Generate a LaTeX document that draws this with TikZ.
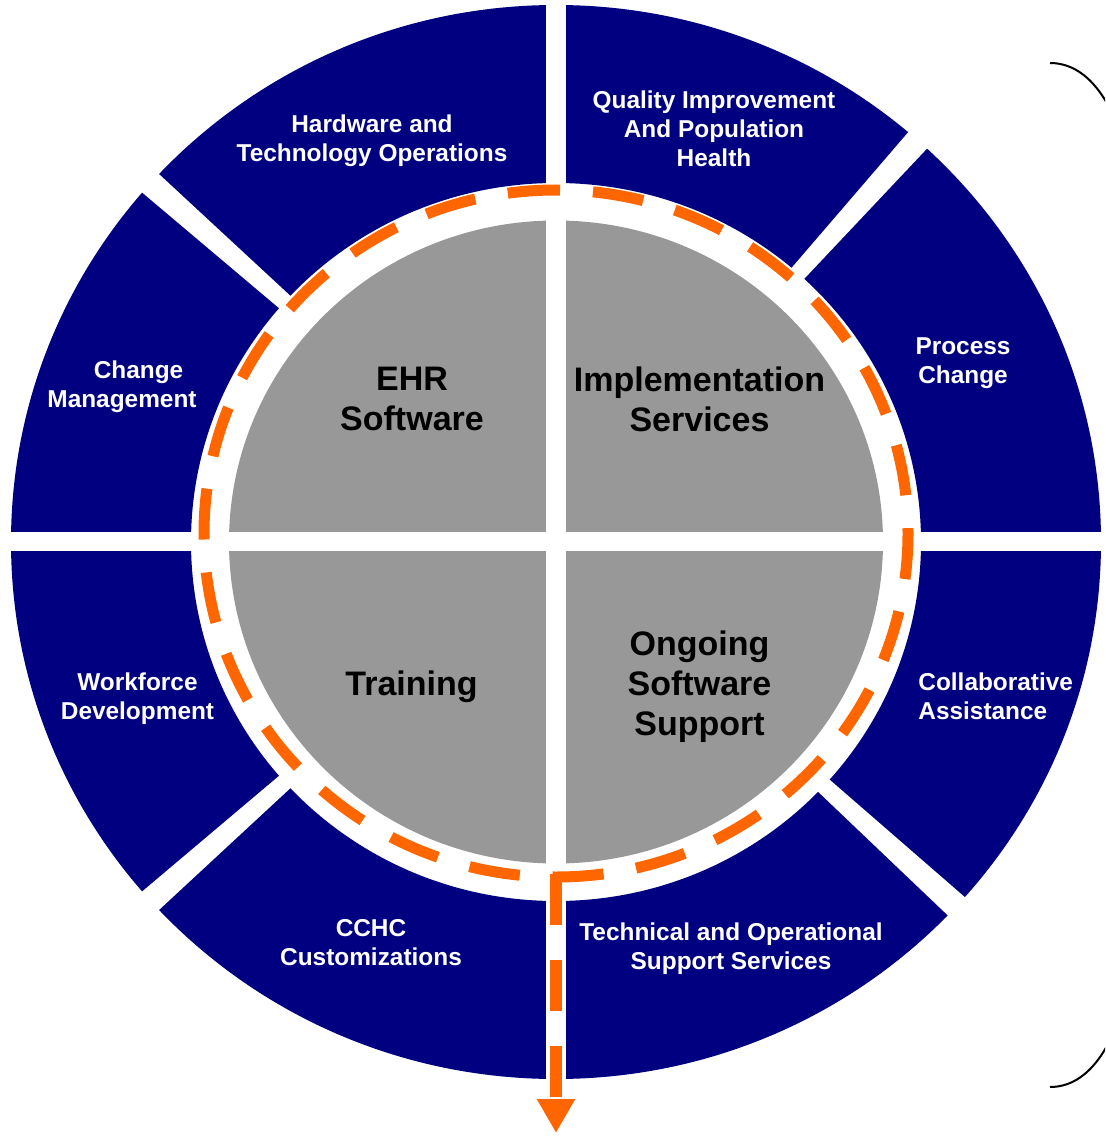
\documentclass[tikz,border=0pt]{standalone}
\usepackage{fontspec}
\newfontfamily\segfont{Liberation Sans}
\usetikzlibrary{arrows.meta}

\definecolor{ringblue}{RGB}{0,0,128}
\definecolor{coregray}{RGB}{152,152,152}
\definecolor{looporange}{RGB}{255,102,0}

\tikzset{
  seglabel/.style={text=white, inner sep=0pt, align=center,
    font=\segfont\bfseries\fontsize{12.2}{14.5}\selectfont},
  corelabel/.style={text=black, inner sep=0pt, align=center,
    font=\segfont\bfseries\fontsize{17}{20}\selectfont},
  loopline/.style={draw=looporange, line width=5.5pt,
    dash pattern=on 25.5pt off 16.5pt, dash phase=23.5pt}
}

\begin{document}
\begin{tikzpicture}[x=0.5pt,y=-0.5pt]
  \useasboundingbox (0,0) rectangle (1105,1139);
  \clip (0,0) rectangle (1105,1139);

  \coordinate (c) at (556,542);

  % outer ring and its cuts
  \fill[ringblue, even odd rule] (c) ellipse [x radius=545, y radius=537]
                                 (c) ellipse [x radius=365, y radius=359];
  \begin{scope}[shift={(c)}]
    \foreach \a in {-48,-138.5,-221.5,-317.7}
      \fill[white] (0,0) -- (\a-1.32:640) -- (\a+1.32:640) -- cycle;
  \end{scope}

  % inner disc
  \fill[coregray] (c) ellipse [x radius=327, y radius=321.5];

  \fill[white] (546,0) rectangle (566,1139);
  \fill[white] (0,532) rectangle (1105,551);

  % dashed loop and the way out
  \coordinate (looptop) at (556,190);
  \coordinate (loopbottom) at (556,877);
  \coordinate (tip) at (556,1133);
  \path[loopline] (looptop) arc [start angle=-90, end angle=270,
                                 x radius=352, y radius=343.5];
  \path[loopline, line width=6pt, dash pattern=on 25.5pt off 17.5pt, dash phase=0pt,
        -{Triangle[width=18pt,length=17pt]}]
    ([yshift=1.5pt]loopbottom) -- (tip);

  % bracket on the right
  \draw[line width=1pt] (1050,63) .. controls (1075,63) and (1094,80) .. (1108,105);
  \draw[line width=1pt] (1050,1087) .. controls (1075,1087) and (1094,1070) .. (1108,1044);

  \begin{scope}[every node/.style={seglabel}]
    \node (hardware)  at (372,141)   {Hardware and\\Technology Operations};
    \node (quality)   at (714,128.5) {Quality Improvement\\And Population\\Health};
    \node (process)   at (963,363)   {Process\\Change};
    \node[align=left, anchor=west] (collab) at (918,696.5) {Collaborative\\Assistance};
    \node (technical) at (731,949)   {Technical and Operational\\Support Services};
    \node (cchc)      at (371,942.5) {CCHC\\Customizations};
    \node (workforce) at (137.5,699) {Workforce\\Development};
    \node (change)    at (122,387)   {\hspace*{16.5pt}Change\\Management};
  \end{scope}

  \begin{scope}[every node/.style={corelabel}]
    \node (ehr)      at (412,399)   {EHR\\Software};
    \node (impl)     at (699.5,399) {Implementation\\Services};
    \node (training) at (411.5,686.5) {Training};
    \node (ongoing)  at (699.5,686.5) {Ongoing\\Software\\Support};
  \end{scope}
\end{tikzpicture}
\end{document}
